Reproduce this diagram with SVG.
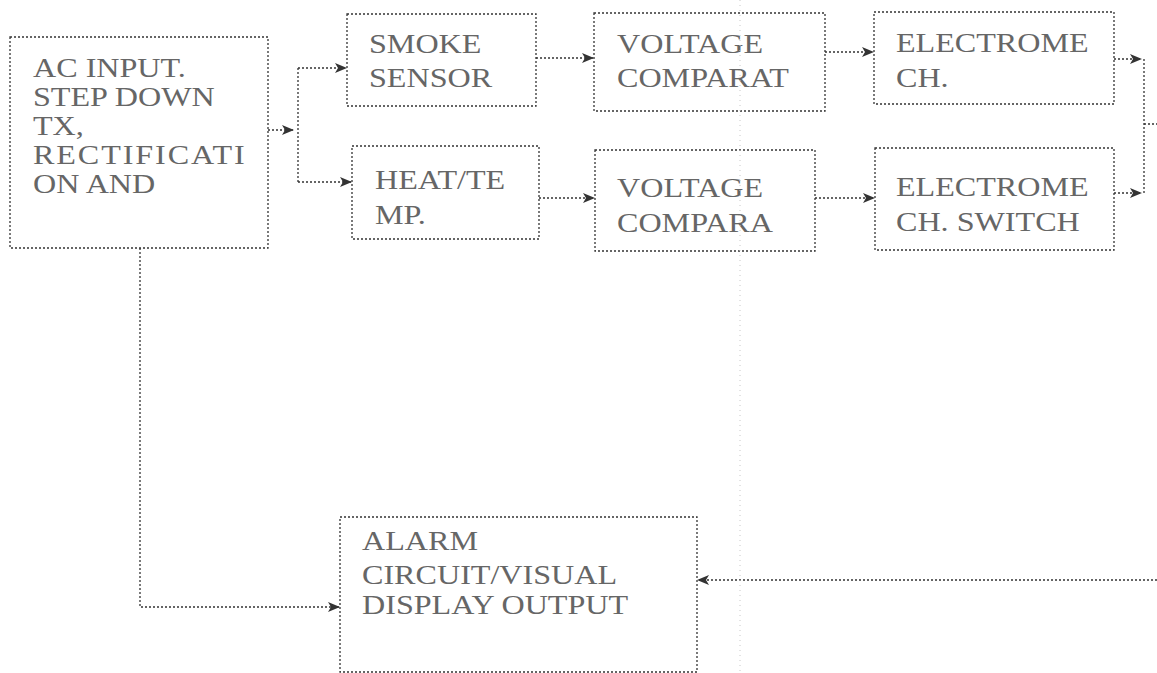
<svg xmlns="http://www.w3.org/2000/svg" width="1157" height="673" viewBox="0 0 1157 673">
<style>
.box{fill:none;stroke:#333;stroke-width:1.3;stroke-dasharray:2 2}
.lbl{font-family:"Liberation Serif","Times New Roman",serif;font-size:27px;fill:#666}
.con{fill:none;stroke:#333;stroke-width:1.3;stroke-dasharray:2 2}
.scan{fill:none;stroke:#c8c8c8;stroke-width:1;stroke-dasharray:1 4}
</style>
<defs>
<marker id="ah" markerWidth="12" markerHeight="10" refX="11" refY="5" orient="auto" markerUnits="userSpaceOnUse">
<path d="M0,0 L12,5 L0,10 L3,5 Z" fill="#333"/>
</marker>
</defs>
<rect width="1157" height="673" fill="#fff"/>
<g id="connectors">
<path class="con" d="M268,130 H293" marker-end="url(#ah)"/>
<path class="con" d="M298,68 V182"/>
<path class="con" d="M298,68 H346" marker-end="url(#ah)"/>
<path class="con" d="M298,182 H351" marker-end="url(#ah)"/>
<path class="con" d="M536,58 H593" marker-end="url(#ah)"/>
<path class="con" d="M825,52 H873" marker-end="url(#ah)"/>
<path class="con" d="M539,198 H594" marker-end="url(#ah)"/>
<path class="con" d="M815,198 H874" marker-end="url(#ah)"/>
<path class="con" d="M1114,59 H1141" marker-end="url(#ah)"/>
<path class="con" d="M1114,193 H1141" marker-end="url(#ah)"/>
<path class="con" d="M1144,59 V193"/>
<path class="con" d="M1144,124 H1157"/>
<path class="con" d="M140,248 V607 H339" marker-end="url(#ah)"/>
<path class="con" d="M1157,580 H698" marker-end="url(#ah)"/>
</g>
<g id="n_ac">
<rect class="box" x="10" y="37" width="258" height="211"/>
<text class="lbl" transform="translate(33,0) scale(1.19 1)"><tspan x="0" y="77">AC INPUT.</tspan><tspan x="0" y="106">STEP DOWN</tspan><tspan x="0" y="135">TX,</tspan><tspan x="0" y="164" textLength="178" lengthAdjust="spacing">RECTIFICATI</tspan><tspan x="0" y="193">ON AND</tspan></text>
</g>
<g id="n_smoke">
<rect class="box" x="347" y="14" width="189" height="92"/>
<text class="lbl" transform="translate(369,0) scale(1.19 1)"><tspan x="0" y="53">SMOKE</tspan><tspan x="0" y="87">SENSOR</tspan></text>
</g>
<g id="n_vc1">
<rect class="box" x="594" y="13" width="231" height="98"/>
<text class="lbl" transform="translate(617,0) scale(1.19 1)"><tspan x="0" y="53">VOLTAGE</tspan><tspan x="0" y="87">COMPARAT</tspan></text>
</g>
<g id="n_em1">
<rect class="box" x="874" y="12" width="240" height="92"/>
<text class="lbl" transform="translate(896,0) scale(1.19 1)"><tspan x="0" y="52">ELECTROME</tspan><tspan x="0" y="87">CH.</tspan></text>
</g>
<g id="n_heat">
<rect class="box" x="352" y="146" width="187" height="93"/>
<text class="lbl" transform="translate(375,0) scale(1.19 1)"><tspan x="0" y="189">HEAT/TE</tspan><tspan x="0" y="224">MP.</tspan></text>
</g>
<g id="n_vc2">
<rect class="box" x="595" y="150" width="220" height="101"/>
<text class="lbl" transform="translate(617,0) scale(1.19 1)"><tspan x="0" y="197">VOLTAGE</tspan><tspan x="0" y="232">COMPARA</tspan></text>
</g>
<g id="n_em2">
<rect class="box" x="875" y="148" width="239" height="102"/>
<text class="lbl" transform="translate(896,0) scale(1.19 1)"><tspan x="0" y="196">ELECTROME</tspan><tspan x="0" y="231">CH. SWITCH</tspan></text>
</g>
<g id="n_alarm">
<rect class="box" x="340" y="517" width="357" height="155"/>
<text class="lbl" transform="translate(362,0) scale(1.19 1)"><tspan x="0" y="550">ALARM</tspan><tspan x="0" y="584">CIRCUIT/VISUAL</tspan><tspan x="0" y="614">DISPLAY OUTPUT</tspan></text>
</g>
<line class="scan" x1="740" y1="0" x2="740" y2="673"/>
</svg>
